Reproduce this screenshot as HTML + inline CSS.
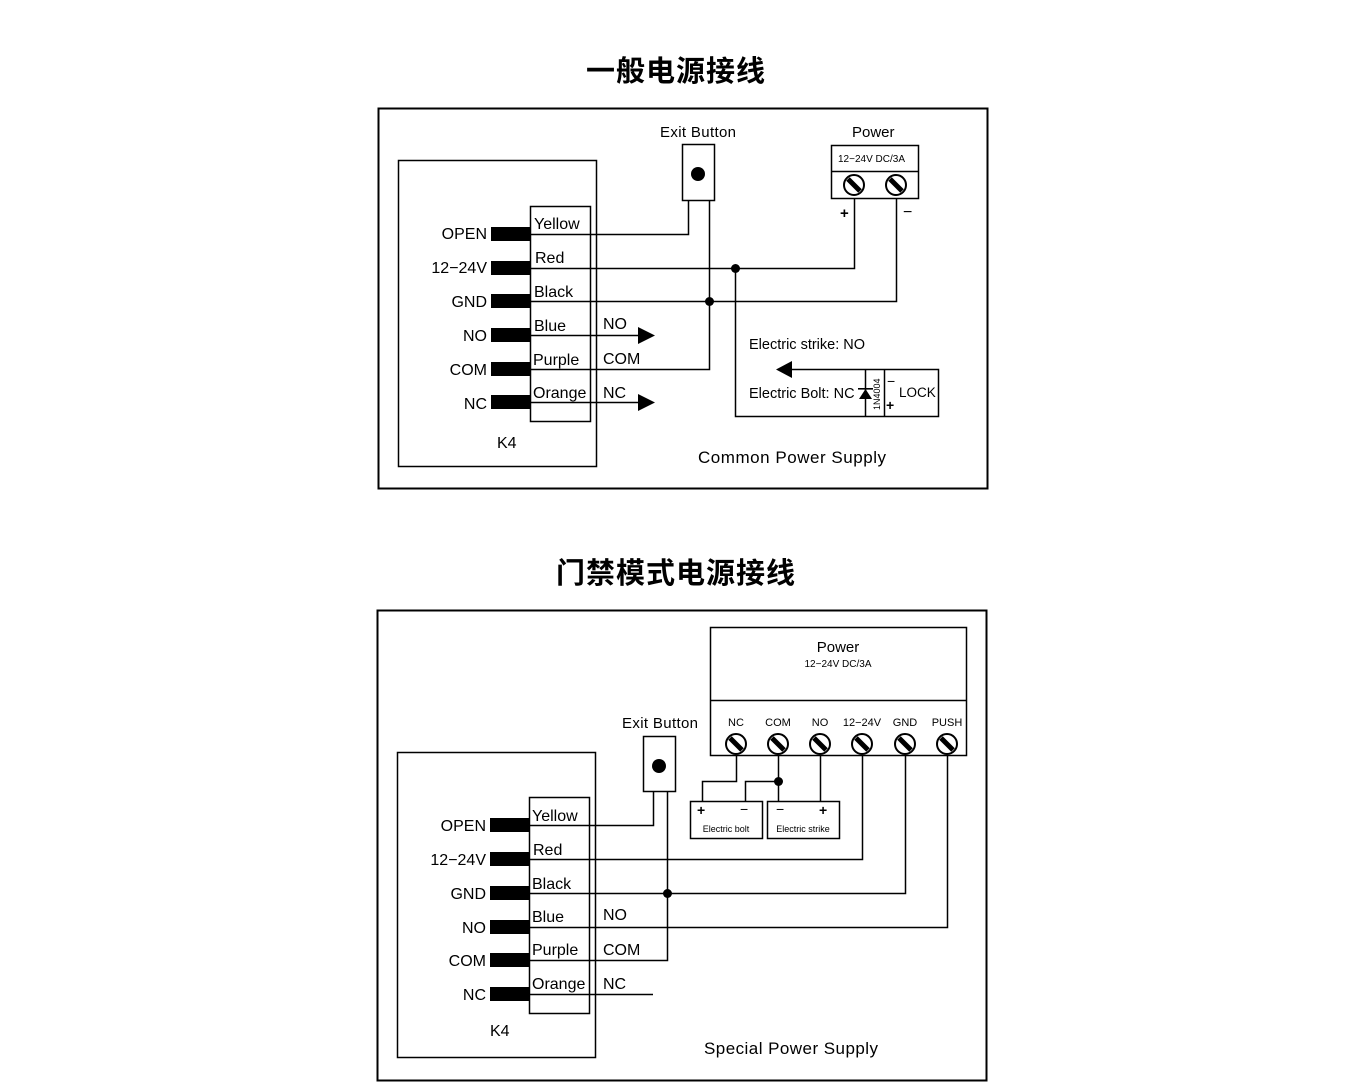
<!DOCTYPE html>
<html><head><meta charset="utf-8"><style>
html,body{margin:0;padding:0;background:#fff;}
svg{display:block;}
text{font-family:"Liberation Sans",Arial,sans-serif;fill:#000;}
.t{font-family:"Liberation Sans","Noto Sans CJK SC",sans-serif;font-weight:bold;}
</style></head><body>
<svg width="1360" height="1089" viewBox="0 0 1360 1089" xmlns="http://www.w3.org/2000/svg">
<defs>
<g id="scr"><circle r="10" fill="#fff" stroke="#000" stroke-width="2"/><line x1="-6" y1="-6" x2="6" y2="6" stroke="#000" stroke-width="5"/></g>
</defs>
<text class="t" x="676" y="81" font-size="29" text-anchor="middle" letter-spacing="1">一般电源接线</text>
<text class="t" x="676" y="583" font-size="29" text-anchor="middle" letter-spacing="1">门禁模式电源接线</text>

<g fill="none" stroke="#000" stroke-width="1.5">
<rect x="378.5" y="108.5" width="609" height="380" stroke-width="2"/>
<rect x="398.5" y="160.5" width="198" height="306"/>
<rect x="530.5" y="206.5" width="60" height="215"/>
<rect x="682.5" y="144.5" width="32" height="56"/>
<rect x="831.5" y="145.5" width="87" height="53"/>
<line x1="831" y1="171.5" x2="918" y2="171.5"/>
<polyline points="530,234.5 688.5,234.5 688.5,200"/>
<polyline points="530,268.5 854.5,268.5 854.5,198"/>
<polyline points="530,301.5 896.5,301.5 896.5,198"/>
<polyline points="709.5,200 709.5,369.5 530,369.5"/>
<line x1="530" y1="335.5" x2="640" y2="335.5"/>
<line x1="530" y1="402.5" x2="640" y2="402.5"/>
<polyline points="735.5,268 735.5,416.5 938.5,416.5 938.5,369.5 790,369.5"/>
<line x1="865.5" y1="369" x2="865.5" y2="416"/>
<line x1="884.5" y1="369" x2="884.5" y2="416"/>
<rect x="377.5" y="610.5" width="609" height="470" stroke-width="2"/>
<rect x="397.5" y="752.5" width="198" height="305"/>
<rect x="529.5" y="797.5" width="60" height="216"/>
<rect x="643.5" y="736.5" width="32" height="55"/>
<rect x="710.5" y="627.5" width="256" height="128"/>
<line x1="710" y1="700.5" x2="966" y2="700.5"/>
<rect x="690.5" y="801.5" width="72" height="37"/>
<rect x="767.5" y="801.5" width="72" height="37"/>
<polyline points="529,825.5 653.5,825.5 653.5,791"/>
<polyline points="667.5,791 667.5,960.5 529,960.5"/>
<polyline points="529,859.5 862.5,859.5 862.5,755"/>
<polyline points="529,893.5 905.5,893.5 905.5,755"/>
<polyline points="529,927.5 947.5,927.5 947.5,755"/>
<line x1="529" y1="994.5" x2="653" y2="994.5"/>
<polyline points="736.5,755 736.5,781.5 702.5,781.5 702.5,801"/>
<line x1="778.5" y1="755" x2="778.5" y2="801"/>
<polyline points="778.5,781.5 745.5,781.5 745.5,801"/>
<line x1="820.5" y1="755" x2="820.5" y2="801"/>
</g>

<g fill="#000">
<circle cx="698" cy="174" r="7"/>
<circle cx="735.5" cy="268.5" r="4.5"/>
<circle cx="709.5" cy="301.5" r="4.5"/>
<polygon points="638,327 655,335.5 638,344"/>
<polygon points="638,394 655,402.5 638,411"/>
<polygon points="776,369.5 792,361 792,378"/>
<polygon points="865.5,389 859,399 872,399"/>
<rect x="858" y="388" width="15" height="1.6"/>
<circle cx="659" cy="766" r="7"/>
<circle cx="667.5" cy="893.5" r="4.5"/>
<circle cx="778.5" cy="781.5" r="4.5"/>
<rect x="491" y="227" width="39" height="14"/>
<rect x="491" y="261" width="39" height="14"/>
<rect x="491" y="294" width="39" height="14"/>
<rect x="491" y="328" width="39" height="14"/>
<rect x="491" y="362" width="39" height="14"/>
<rect x="491" y="395" width="39" height="14"/>
<rect x="490" y="818" width="39" height="14"/>
<rect x="490" y="852" width="39" height="14"/>
<rect x="490" y="886" width="39" height="14"/>
<rect x="490" y="920" width="39" height="14"/>
<rect x="490" y="953" width="39" height="14"/>
<rect x="490" y="987" width="39" height="14"/>
</g>
<use href="#scr" x="854" y="185"/>
<use href="#scr" x="896" y="185"/>
<use href="#scr" x="736" y="744"/>
<use href="#scr" x="778" y="744"/>
<use href="#scr" x="820" y="744"/>
<use href="#scr" x="862" y="744"/>
<use href="#scr" x="905" y="744"/>
<use href="#scr" x="947" y="744"/>

<g font-size="16" text-anchor="end">
<text x="487" y="239">OPEN</text><text x="487" y="273">12−24V</text><text x="487" y="307">GND</text>
<text x="487" y="341">NO</text><text x="487" y="375">COM</text><text x="487" y="409">NC</text>
<text x="486" y="831">OPEN</text><text x="486" y="865">12−24V</text><text x="486" y="899">GND</text>
<text x="486" y="933">NO</text><text x="486" y="966">COM</text><text x="486" y="1000">NC</text>
</g>
<g font-size="16">
<text x="534" y="229">Yellow</text><text x="535" y="263">Red</text><text x="534" y="297">Black</text>
<text x="534" y="331">Blue</text><text x="533" y="365">Purple</text><text x="533" y="398">Orange</text>
<text x="603" y="329">NO</text><text x="603" y="364">COM</text><text x="603" y="398">NC</text>
<text x="497" y="448">K4</text>
<text x="660" y="137" font-size="15" textLength="76">Exit Button</text>
<text x="852" y="137" font-size="15">Power</text>
<text x="698" y="463" font-size="17" textLength="188">Common Power Supply</text>
<text x="749" y="349" font-size="14.5">Electric strike: NO</text>
<text x="749" y="398" font-size="14.5">Electric Bolt: NC</text>
<text x="899" y="397" font-size="13.5">LOCK</text>
<text x="887" y="386" font-size="14">−</text>
<text x="886" y="410" font-size="14" font-weight="bold">+</text>
<text x="0" y="0" font-size="9" transform="translate(880,410) rotate(-90)">1N4004</text>
<text x="838" y="162" font-size="10">12−24V  DC/3A</text>
<text x="840" y="218" font-size="15" font-weight="bold">+</text>
<text x="903" y="217" font-size="16">−</text>

<text x="532" y="821">Yellow</text><text x="533" y="855">Red</text><text x="532" y="889">Black</text>
<text x="532" y="922">Blue</text><text x="532" y="955">Purple</text><text x="532" y="989">Orange</text>
<text x="603" y="920">NO</text><text x="603" y="955">COM</text><text x="603" y="989">NC</text>
<text x="490" y="1036">K4</text>
<text x="622" y="728" font-size="15" textLength="76">Exit Button</text>
<text x="704" y="1054" font-size="17" textLength="174">Special Power Supply</text>
<text x="838" y="652" font-size="15" text-anchor="middle">Power</text>
<text x="838" y="667" font-size="10" text-anchor="middle">12−24V DC/3A</text>
<g font-size="11" text-anchor="middle">
<text x="736" y="726">NC</text><text x="778" y="726">COM</text><text x="820" y="726">NO</text>
<text x="862" y="726">12−24V</text><text x="905" y="726">GND</text><text x="947" y="726">PUSH</text>
</g>
<text x="697" y="815" font-size="14" font-weight="bold">+</text>
<text x="740" y="814" font-size="14">−</text>
<text x="776" y="814" font-size="14">−</text>
<text x="819" y="815" font-size="14" font-weight="bold">+</text>
<text x="726" y="832" font-size="9" text-anchor="middle">Electric bolt</text>
<text x="803" y="832" font-size="9" text-anchor="middle">Electric strike</text>
</g>
</svg>
</body></html>
